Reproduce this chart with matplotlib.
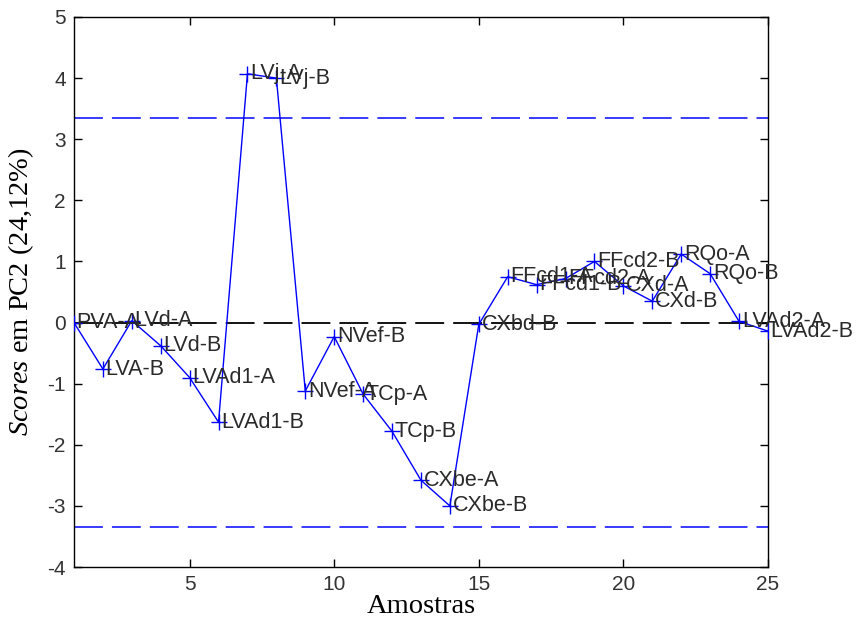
import matplotlib
matplotlib.use("Agg")
import matplotlib.pyplot as plt
import numpy as np

plt.rcParams["mathtext.fontset"] = "custom"
plt.rcParams["mathtext.it"] = "Liberation Serif:italic"
plt.rcParams["mathtext.rm"] = "Liberation Serif"
plt.rcParams["axes.unicode_minus"] = False

samples = list(range(1, 26))
scores = [0.00, -0.76, 0.03, -0.38, -0.90, -1.63, 4.07, 4.00, -1.12, -0.23,
          -1.17, -1.78, -2.58, -3.00, -0.03, 0.75, 0.62, 0.72, 1.00, 0.60,
          0.35, 1.12, 0.80, 0.02, -0.14]
labels = ["PVA-A", "LVA-B", "LVd-A", "LVd-B", "LVAd1-A", "LVAd1-B", "LVj-A", "LVj-B",
          "NVef-A", "NVef-B", "TCp-A", "TCp-B", "CXbe-A", "CXbe-B", "CXbd-B",
          "FFcd1-A", "FFcd1-B", "FFcd2-A", "FFcd2-B", "CXd-A", "CXd-B",
          "RQo-A", "RQo-B", "LVAd2-A", "LVAd2-B"]
limit = 3.35
xticks = [5, 10, 15, 20, 25]
yticks = [-4, -3, -2, -1, 0, 1, 2, 3, 4, 5]

fig = plt.figure(figsize=(8.59, 6.22), dpi=100)
ax = fig.add_axes([0.0861, 0.0884, 0.8079, 0.8843])

dash = (0, (16, 5))
ax.axhline(limit, color="#2a2aff", ls=dash, lw=1.3)
ax.axhline(-limit, color="#2a2aff", ls=dash, lw=1.3)
ax.axhline(0, color="black", ls=dash, lw=1.3)

ax.plot(samples, scores, color="#0000ff", lw=1.0, marker="+", ms=11, mew=1.0, zorder=3)

for x, y, t in zip(samples, scores, labels):
    ax.annotate(t, (x, y), xytext=(2, 0), textcoords="offset points",
                ha="left", va="center", fontsize=15.5, color="#2a2a2a",
                family="Liberation Sans", zorder=4, annotation_clip=False)

ax.set_xlim(1, 25)
ax.set_ylim(-4, 5)
ax.set_xticks(xticks)
ax.set_yticks(yticks)
ax.tick_params(direction="in", top=True, right=True, length=6, width=1,
               labelsize=15, colors="black", pad=6)
for lab in ax.get_xticklabels() + ax.get_yticklabels():
    lab.set_family("Liberation Sans")
    lab.set_color("#333333")
for s in ax.spines.values():
    s.set_linewidth(1.0)

ax.set_xlabel("Amostras", family="Liberation Serif", fontsize=20.5, labelpad=0)
ax.set_ylabel(r"$\mathit{Scores}$ em PC2 (24,12%)", family="Liberation Serif",
              fontsize=20.5, labelpad=8)

fig.savefig("out.png", dpi=100)
